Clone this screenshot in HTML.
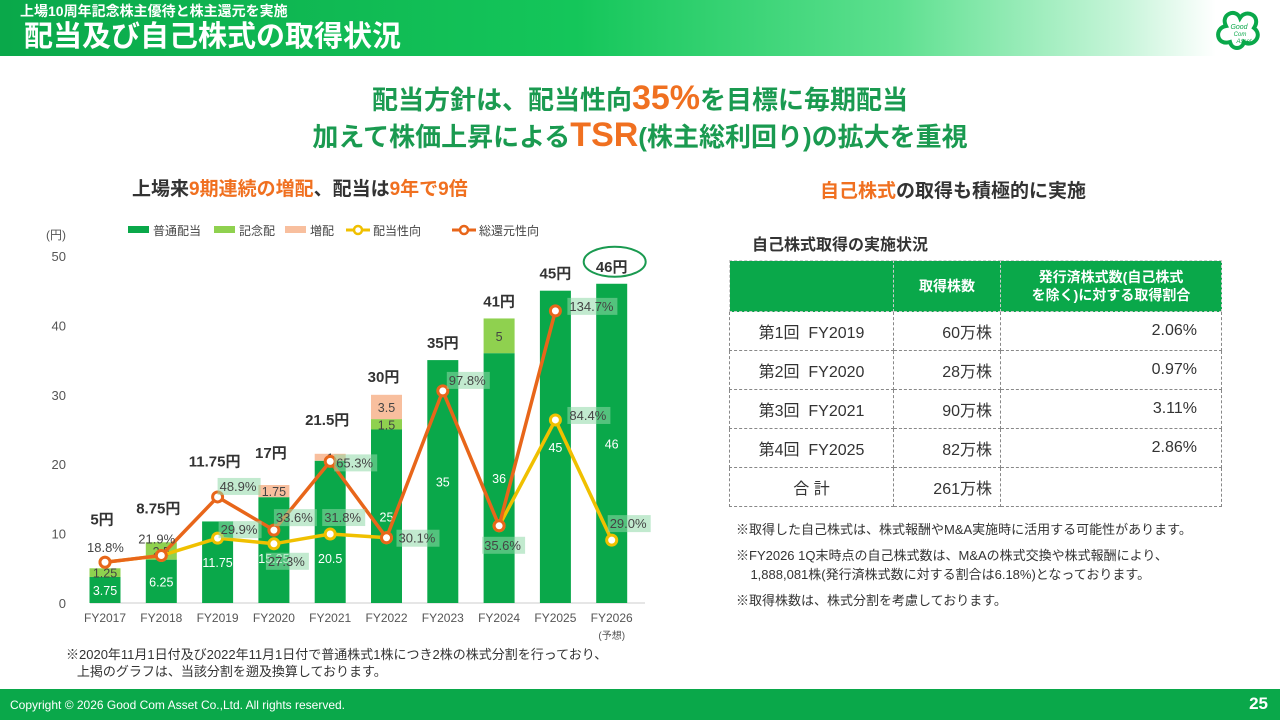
<!DOCTYPE html>
<html><head><meta charset="utf-8"><style>
*{margin:0;padding:0;box-sizing:border-box}
body{width:1280px;height:720px;position:relative;background:#fff;font-family:"Liberation Sans","Noto Sans CJK JP",sans-serif;overflow:hidden;color:#333}
.abs{position:absolute}
#hdr{left:0;top:0;width:1280px;height:56px;background:linear-gradient(90deg,#0aa84a 0%,#14c65a 45%,#5de08f 70%,#c8f5da 88%,#fff 95%)}
#ftr{left:0;top:689px;width:1280px;height:31px;background:#0aa84a;color:#fff}
table{border-collapse:collapse;position:absolute;left:729px;top:260px;width:493px;font-size:16px}
td{border:1px dashed #888;height:39px;color:#333;vertical-align:middle}
th{background:#0aa84a;color:#fff;font-size:14px;height:51px;border:1px dashed #ccc;font-weight:bold}
</style></head><body>
<div id="hdr" class="abs">
 <div class="abs" style="left:20px;top:2px;font-size:14px;color:#fff;font-weight:bold;line-height:18px">上場10周年記念株主優待と株主還元を実施</div>
 <div class="abs" style="left:24px;top:21px;font-size:29px;color:#fff;font-weight:bold;line-height:32px">配当及び自己株式の取得状況</div>
</div>
<svg class="abs" style="left:1212px;top:6px" width="52" height="48"><g fill="none" stroke="#0aa84a" stroke-width="4"><path d="M18 36 C4 40 2 22 14 20 C8 8 24 2 28 12 C34 2 50 10 42 22 C52 30 40 42 32 36 C30 44 20 44 18 36Z"/></g><text x="27" y="23" font-size="7" fill="#0aa84a" font-style="italic" text-anchor="middle">Good</text><text x="28" y="30" font-size="6" fill="#0aa84a" font-style="italic" text-anchor="middle">Com</text><text x="32" y="37" font-size="6" fill="#0aa84a" font-style="italic" text-anchor="middle">Asset</text></svg>

<div class="abs" style="left:0;width:1280px;top:80px;text-align:center;font-size:26px;font-weight:bold;color:#1a9a50;line-height:36px">配当方針は、配当性向<span style="color:#f07020;font-size:34px">35%</span>を目標に毎期配当</div>
<div class="abs" style="left:0;width:1280px;top:117px;text-align:center;font-size:26px;font-weight:bold;color:#1a9a50;line-height:36px">加えて株価上昇による<span style="color:#f07020;font-size:34px">TSR</span>(株主総利回り)の拡大を重視</div>

<div class="abs" style="left:132px;top:174px;font-size:19px;font-weight:bold;color:#333">上場来<span style="color:#f07020">9期連続の増配</span>、配当は<span style="color:#f07020">9年で9倍</span></div>
<div class="abs" style="left:820px;top:176px;font-size:19px;font-weight:bold;color:#333"><span style="color:#f07020">自己株式</span>の取得も積極的に実施</div>
<div class="abs" style="left:752px;top:231px;font-size:16px;font-weight:bold;color:#333">自己株式取得の実施状況</div>

<table>
<tr><th style="width:164px"></th><th style="width:107px">取得株数</th><th style="line-height:18px">発行済株式数(自己株式<br>を除く)に対する取得割合</th></tr>
<tr><td style="text-align:center">第1回&nbsp; FY2019</td><td style="text-align:right;padding-right:8px">60万株</td><td style="text-align:right;padding-right:24px">2.06%</td></tr>
<tr><td style="text-align:center">第2回&nbsp; FY2020</td><td style="text-align:right;padding-right:8px">28万株</td><td style="text-align:right;padding-right:24px">0.97%</td></tr>
<tr><td style="text-align:center">第3回&nbsp; FY2021</td><td style="text-align:right;padding-right:8px">90万株</td><td style="text-align:right;padding-right:24px">3.11%</td></tr>
<tr><td style="text-align:center">第4回&nbsp; FY2025</td><td style="text-align:right;padding-right:8px">82万株</td><td style="text-align:right;padding-right:24px">2.86%</td></tr>
<tr><td style="text-align:center">合 計</td><td style="text-align:right;padding-right:8px">261万株</td><td></td></tr>
</table>
<div class="abs" style="left:736px;top:520px;font-size:13px;line-height:19px;color:#333">※取得した自己株式は、株式報酬やM&amp;A実施時に活用する可能性があります。<br><div style="height:7px"></div>※FY2026 1Q末時点の自己株式数は、M&amp;Aの株式交換や株式報酬により、<br>&nbsp;&nbsp;&nbsp;&nbsp;1,888,081株(発行済株式数に対する割合は6.18%)となっております。<br><div style="height:7px"></div>※取得株数は、株式分割を考慮しております。</div>

<div class="abs" style="left:66px;top:646px;font-size:13px;line-height:17px;color:#333">※2020年11月1日付及び2022年11月1日付で普通株式1株につき2株の株式分割を行っており、<br>&nbsp;&nbsp;&nbsp;上掲のグラフは、当該分割を遡及換算しております。</div>

<svg id="chart" class="abs" style="left:0;top:215px" width="700" height="430"></svg>

<div id="ftr" class="abs">
 <div class="abs" style="left:10px;top:9px;font-size:12px">Copyright © 2026 Good Com Asset Co.,Ltd. All rights reserved.</div>
 <div class="abs" style="right:12px;top:5px;font-size:17px;font-weight:bold">25</div>
</div>

<script>
const categories=["FY2017","FY2018","FY2019","FY2020","FY2021","FY2022","FY2023","FY2024","FY2025","FY2026"];
const regularDiv=[3.75,6.25,11.75,15.25,20.5,25,35,36,45,46];
const commemDiv=[1.25,2.5,0,0,0,1.5,0,5,0,0];
const increaseDiv=[0,0,0,1.75,1,3.5,0,0,0,0];
const totalLabels=["5円","8.75円","11.75円","17円","21.5円","30円","35円","41円","45円","46円"];
const payoutRatio=[18.8,21.9,29.9,27.3,31.8,30.1,null,35.6,84.4,29.0];
const totalReturn=[18.8,21.9,48.9,33.6,65.3,30.1,97.8,35.6,134.7,null];
const yTicks=[0,10,20,30,40,50];

const svg=document.getElementById('chart');const NS='http://www.w3.org/2000/svg';
const OY=215;
function y(v){return 603-OY-v*6.94;}
function yp(p){return y(p*50/160);}
function x(i){return 105+i*56.3;}
function mk(t,a,parent){const e=document.createElementNS(NS,t);for(const k in a)e.setAttribute(k,a[k]);(parent||svg).appendChild(e);return e;}
function txt(s,a){const e=mk('text',a);e.textContent=s;return e;}

yTicks.forEach(v=>{const t=txt(v,{x:66,y:y(v)+5,'font-size':13,fill:'#555','text-anchor':'end'});

});
const u=txt('(円)',{x:46,y:y(50)-17,'font-size':12,fill:'#555'});


const ax=mk('line',{x1:90,x2:645,y1:y(0),y2:y(0),stroke:'#ccc'});



const lg=[[128,'#0aa84a','普通配当','rect'],[214,'#8fd14f','記念配','rect'],[285,'#f8bf9e','増配','rect'],[348,'#f0c000','配当性向','line'],[454,'#e8661a','総還元性向','line']];
lg.forEach(l=>{if(l[3]=='rect'){mk('rect',{x:l[0],y:11,width:21,height:7,fill:l[1]});}else{mk('line',{x1:l[0]-2,x2:l[0]+22,y1:15,y2:15,stroke:l[1],'stroke-width':3});mk('circle',{cx:l[0]+10,cy:15,r:4,fill:'#fff',stroke:l[1],'stroke-width':2.5});}
const t=txt(l[2],{x:l[0]+25,y:20,'font-size':12,fill:'#444'});

});

const bw=31;
const totDY=[44,29,55,27,29,13,12,12,12,12];
categories.forEach((c,i)=>{
 const cx=x(i);let b=0;
 [[regularDiv,'#0aa84a'],[commemDiv,'#8fd14f'],[increaseDiv,'#f8bf9e']].forEach((s,k)=>{
  const v=s[0][i];if(!v)return;
  const r=mk('rect',{x:cx-bw/2,y:y(b+v),width:bw,height:y(b)-y(b+v),fill:s[1]});
  
  
  let ly=(y(b)+y(b+v))/2+5;
  if(k==0&&v>15&&v<24)ly=y(b)-40;
  const lt=txt(v,{x:cx,y:ly,'font-size':12.5,fill:k==0?'#fff':'#444','text-anchor':'middle'});
  
  
  b+=v;});
 const tl=txt(totalLabels[i],{x:cx-(i<6?3:0),y:y(b)-totDY[i],'font-size':15,'font-weight':'bold',fill:'#333','text-anchor':'middle'});
 
 
 const xl=txt(c,{x:cx,y:y(0)+19,'font-size':12,fill:'#555','text-anchor':'middle'});
 
 
});
txt('(予想)',{x:x(9),y:y(0)+36,'font-size':10,fill:'#555','text-anchor':'middle'});
const ring=mk('ellipse',{cx:x(9)+3,cy:y(46)-22,rx:31,ry:15,fill:'none',stroke:'#1a9a50','stroke-width':2});



function series(arr,col,name){
 let seg=[];const segs=[];arr.forEach((v,i)=>{if(v==null){if(seg.length)segs.push(seg);seg=[];}else seg.push([x(i),yp(v)]);});if(seg.length)segs.push(seg);
 segs.forEach(s=>{const p=mk('polyline',{points:s.map(q=>q.join(',')).join(' '),fill:'none',stroke:col,'stroke-width':3.5});
 
 });
 arr.forEach((v,i)=>{if(v==null)return;const c=mk('circle',{cx:x(i),cy:yp(v),r:5,fill:'#fff',stroke:col,'stroke-width':3});
 
 });
}
series(payoutRatio,'#f0c000','payout-ratio');
series(totalReturn,'#e8661a','total-return');
const payOff=[null,null,[3,-4],[-6,22],[-6,-12],[12,5],null,null,[14,0],[-2,-12]];
const totOff=[[-18,-10],[-23,-12],[2,-6],[2,-8],[6,6],null,[6,-6],[-15,24],[14,0],null];
function plab(arr,off){arr.forEach((v,i)=>{if(v==null||!off[i])return;const lx=x(i)+off[i][0],ly=yp(v)+off[i][1];
 if(i>1){const bx=mk('rect',{x:lx-2,y:ly-13,width:v>=100?50:43,height:17,fill:'#8fd8a8',opacity:0.55});
 
 }
 const t=txt(v.toFixed(1)+'%',{x:lx,y:ly,'font-size':13,fill:'#444'});
 
 });}
plab(payoutRatio,payOff);
plab(totalReturn,totOff);
</script>
</body></html>
